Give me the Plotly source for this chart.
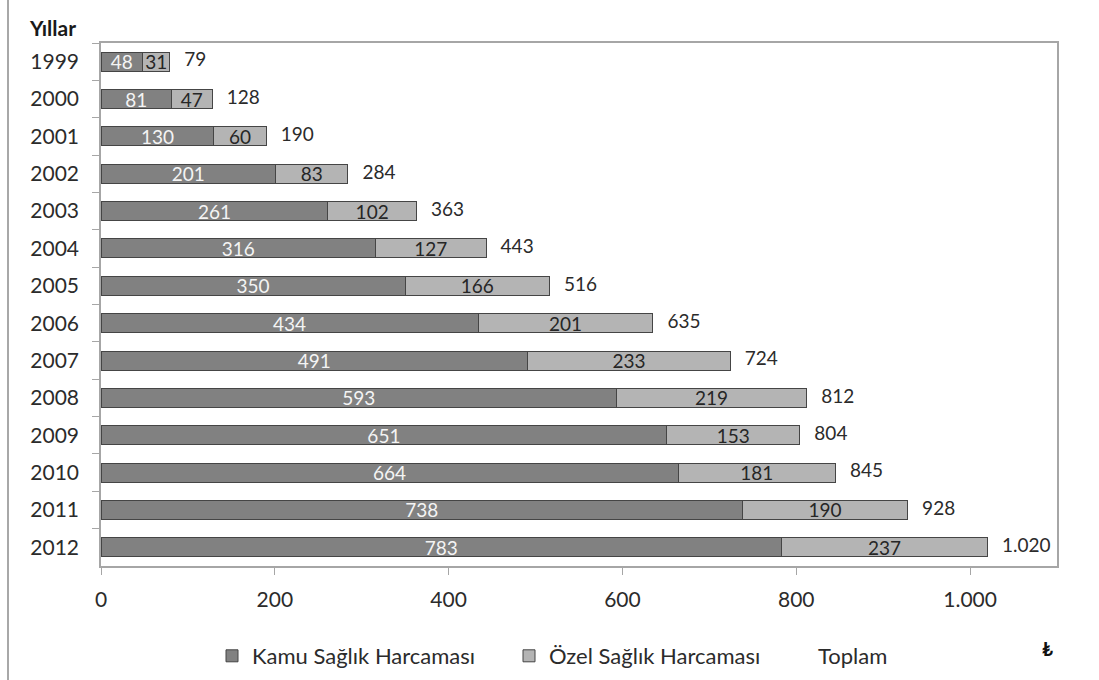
import plotly.graph_objects as go

# Sağlık harcamaları (yıllara göre, ₺)
yillar = ["1999", "2000", "2001", "2002", "2003", "2004", "2005",
          "2006", "2007", "2008", "2009", "2010", "2011", "2012"]
kamu = [48, 81, 130, 201, 261, 316, 350, 434, 491, 593, 651, 664, 738, 783]
ozel = [31, 47, 60, 83, 102, 127, 166, 201, 233, 219, 153, 181, 190, 237]
toplam = [k + o for k, o in zip(kamu, ozel)]

x_ticks = [0, 200, 400, 600, 800, 1000]

FONT = "Lato"
TXT = "#2b2b2b"
EDGE = "#454545"
AXIS = "#a6a6a6"

fig = go.Figure()

fig.add_trace(go.Bar(
    y=yillar, x=kamu, orientation="h", name="Kamu Sağlık Harcaması",
    marker=dict(color="#818181", line=dict(color=EDGE, width=1)),
    text=kamu, textposition="inside", insidetextanchor="middle", textangle=0,
    textfont=dict(family=FONT, size=19, color="#f4f4f4"),
    legendwidth=252,
))
fig.add_trace(go.Bar(
    y=yillar, x=ozel, orientation="h", name="Özel Sağlık Harcaması",
    marker=dict(color="#b4b4b4", line=dict(color=EDGE, width=1)),
    text=ozel, textposition="inside", insidetextanchor="middle", textangle=0,
    textfont=dict(family=FONT, size=19, color="#262626"),
    legendwidth=224,
))
# Toplam: legend entry without a visible swatch
fig.add_trace(go.Bar(
    y=yillar, x=[0] * len(yillar), orientation="h", name="Toplam",
    marker=dict(color="rgba(0,0,0,0)", line=dict(width=0)),
    hoverinfo="skip", legendwidth=90,
))
# Toplam labels at the end of each stacked bar
fig.add_trace(go.Scatter(
    y=yillar, x=toplam, mode="text", showlegend=False,
    texttemplate="   %{x:,}", textposition="middle right",
    textfont=dict(family=FONT, size=19, color=TXT), cliponaxis=False,
    hoverinfo="skip",
))

fig.update_layout(
    width=1099, height=680,
    barmode="stack", bargap=0.49,
    separators=",.",
    paper_bgcolor="white", plot_bgcolor="white",
    margin=dict(l=101, r=42, t=43, b=114, autoexpand=False),
    font=dict(family=FONT, color=TXT),
    uniformtext=dict(minsize=19, mode="show"),
    showlegend=True,
    legend=dict(
        orientation="h", x=(212 - 101) / 956, xanchor="left",
        y=-(635 - 566) / 523, yanchor="top",
        font=dict(family=FONT, size=22, color=TXT),
        itemwidth=30, traceorder="normal",
    ),
    title=dict(
        text="<b>Yıllar</b>", x=30 / 1099, xanchor="left", xref="container",
        y=1 - 29 / 680, yanchor="middle", yref="container",
        font=dict(family=FONT, size=21, color="#1a1a1a"),
    ),
)

fig.update_xaxes(
    range=[0, 1100], tickvals=x_ticks, tickformat=",",
    ticks="outside", ticklen=7, tickcolor=AXIS, ticklabelstandoff=7,
    showline=True, linecolor=AXIS, linewidth=1.5, mirror=True,
    showgrid=False, zeroline=False,
    tickfont=dict(family=FONT, size=21, color=TXT),
)
fig.update_yaxes(
    type="category", range=[len(yillar) - 0.5, -0.5], autorange=False,
    ticks="outside", tickson="boundaries", ticklen=7, tickcolor=AXIS,
    ticklabelstandoff=16,
    showline=True, linecolor=AXIS, linewidth=1.5, mirror=True,
    showgrid=False, zeroline=False,
    tickfont=dict(family=FONT, size=21, color=TXT),
)

# Left frame edge of the chart box
fig.add_shape(type="line", xref="paper", yref="paper",
              x0=(8 - 101) / 956, x1=(8 - 101) / 956,
              y0=-114 / 523 - 0.01, y1=1 + 43 / 523 + 0.01,
              line=dict(color="#a8a8a8", width=2))

# Currency unit
fig.add_annotation(text="<b>₺</b>", xref="paper", yref="paper",
                   x=(1047 - 101) / 956, y=-(648 - 566) / 523,
                   showarrow=False, xanchor="center", yanchor="middle",
                   font=dict(family=FONT, size=19, color="#111111"))

fig.write_html("out.html")
